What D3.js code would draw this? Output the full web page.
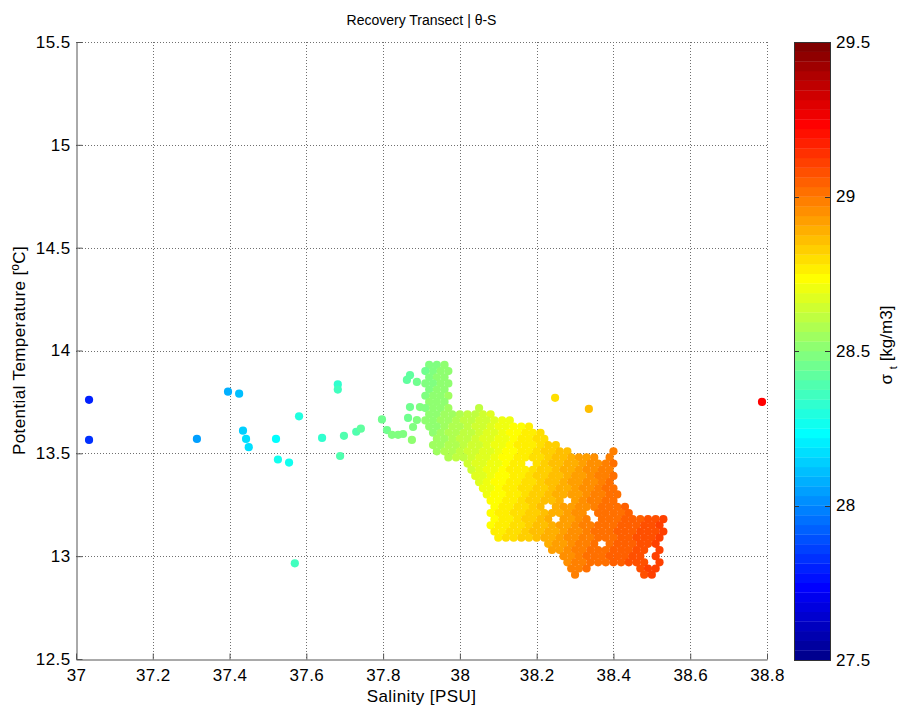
<!DOCTYPE html>
<html lang="en">
<head>
<meta charset="UTF-8" />
<title>Recovery Transect | θ-S</title>
<script src="https://d3js.org/d3.v7.min.js"></script>
<style>
  body { margin: 0; background: #fff; }
  text { font-family: "Liberation Sans", Arial, sans-serif; fill: #000; }
</style>
</head>
<body>
<svg id="chart" width="900" height="707"></svg>
<script>
// axis ticks
const xTicks = [37, 37.2, 37.4, 37.6, 37.8, 38, 38.2, 38.4, 38.6, 38.8];
const yTicks = [12.5, 13, 13.5, 14, 14.5, 15, 15.5];
const cbTicks = [27.5, 28, 28.5, 29, 29.5];

// scattered casts (salinity, potential temperature, sigma-t)
const sparseS = [37.034, 37.034, 37.315, 37.396, 37.425, 37.435, 37.443, 37.45, 37.521, 37.526, 37.555, 37.581, 37.57,
  37.641, 37.698, 37.682, 37.682, 37.688, 37.73, 37.742, 37.797, 37.81, 37.823, 37.839, 37.852, 37.875,
  37.87, 37.862, 37.888, 37.87, 37.896, 37.865, 37.888, 37.878, 38.248, 38.336, 38.787];
const sparseT = [13.76, 13.565, 13.57, 13.80, 13.79, 13.61, 13.57, 13.53, 13.57, 13.47, 13.455, 13.68, 12.965,
  13.575, 13.585, 13.835, 13.81, 13.487, 13.605, 13.62, 13.665, 13.613, 13.59, 13.59, 13.594, 13.565,
  13.88, 13.857, 13.847, 13.725, 13.725, 13.672, 13.662, 13.628, 13.77, 13.716, 13.75];
const sparseSigma = [27.81, 27.84, 28.05, 28.08, 28.10, 28.15, 28.17, 28.18, 28.22, 28.25, 28.27, 28.30, 28.36,
  28.33, 28.38, 28.34, 28.35, 28.40, 28.40, 28.41, 28.44, 28.46, 28.47, 28.48, 28.49, 28.51,
  28.42, 28.42, 28.44, 28.45, 28.47, 28.46, 28.48, 28.48, 28.80, 28.87, 29.24];

// dense cloud, one row per temperature
const cloudT = [13.93, 13.90, 13.87, 13.84, 13.81, 13.78, 13.75, 13.72, 13.69, 13.66, 13.63, 13.60, 13.57, 13.54,
  13.51, 13.48, 13.45, 13.42, 13.39, 13.36, 13.33, 13.30, 13.27, 13.24, 13.21, 13.18, 13.15, 13.12, 13.09,
  13.06, 13.03, 13.00, 12.97, 12.94, 12.91];
const cloudS = [
  [37.92, 37.94, 37.96],
  [37.91, 37.93, 37.95, 37.97],
  [37.92, 37.94, 37.96],
  [37.91, 37.93, 37.95, 37.97],
  [37.92, 37.94, 37.96],
  [37.91, 37.93, 37.95, 37.97],
  [37.92, 37.94, 37.96],
  [37.91, 37.93, 37.95, 37.97, 38.05],
  [37.92, 37.94, 37.96, 37.98, 38.00, 38.02, 38.04, 38.06, 38.08],
  [37.91, 37.93, 37.95, 37.97, 37.99, 38.01, 38.03, 38.05, 38.07, 38.09, 38.11, 38.13],
  [37.92, 37.94, 37.96, 37.98, 38.00, 38.02, 38.04, 38.06, 38.08, 38.10, 38.12, 38.14, 38.16, 38.18],
  [37.93, 37.95, 37.97, 37.99, 38.01, 38.03, 38.05, 38.07, 38.09, 38.11, 38.13, 38.15, 38.17, 38.19, 38.21],
  [37.94, 37.96, 37.98, 38.00, 38.02, 38.04, 38.06, 38.08, 38.10, 38.12, 38.14, 38.16, 38.18, 38.20, 38.22],
  [37.93, 37.95, 37.97, 37.99, 38.01, 38.03, 38.05, 38.07, 38.09, 38.11, 38.13, 38.15, 38.17, 38.19, 38.21, 38.23, 38.25],
  [37.94, 37.96, 37.98, 38.00, 38.02, 38.04, 38.06, 38.08, 38.10, 38.12, 38.14, 38.16, 38.18, 38.20, 38.22, 38.24, 38.26, 38.28, 38.40],
  [37.97, 37.99, 38.01, 38.03, 38.05, 38.07, 38.09, 38.11, 38.13, 38.15, 38.17, 38.19, 38.21, 38.23, 38.25, 38.27, 38.29, 38.31, 38.33, 38.35, 38.39],
  [38.02, 38.04, 38.06, 38.08, 38.10, 38.12, 38.14, 38.16, 38.20, 38.22, 38.24, 38.26, 38.28, 38.30, 38.32, 38.34, 38.36, 38.38, 38.40],
  [38.03, 38.05, 38.07, 38.09, 38.11, 38.13, 38.15, 38.17, 38.19, 38.21, 38.23, 38.25, 38.27, 38.29, 38.31, 38.33, 38.35, 38.37, 38.39],
  [38.04, 38.06, 38.08, 38.10, 38.12, 38.14, 38.16, 38.18, 38.20, 38.22, 38.24, 38.26, 38.28, 38.30, 38.32, 38.34, 38.36, 38.38, 38.40],
  [38.05, 38.07, 38.09, 38.11, 38.13, 38.15, 38.17, 38.19, 38.21, 38.23, 38.25, 38.27, 38.29, 38.31, 38.33, 38.35, 38.37, 38.39],
  [38.06, 38.08, 38.10, 38.12, 38.14, 38.16, 38.18, 38.20, 38.22, 38.24, 38.26, 38.28, 38.30, 38.32, 38.34, 38.36, 38.38, 38.40],
  [38.07, 38.09, 38.11, 38.13, 38.15, 38.17, 38.19, 38.21, 38.23, 38.25, 38.27, 38.29, 38.31, 38.33, 38.35, 38.37, 38.39, 38.41],
  [38.08, 38.10, 38.12, 38.14, 38.16, 38.18, 38.20, 38.22, 38.24, 38.26, 38.30, 38.32, 38.34, 38.36, 38.38, 38.40],
  [38.09, 38.11, 38.13, 38.15, 38.17, 38.19, 38.21, 38.25, 38.27, 38.29, 38.31, 38.33, 38.35, 38.37, 38.39, 38.41, 38.43],
  [38.08, 38.10, 38.12, 38.14, 38.16, 38.18, 38.20, 38.22, 38.24, 38.26, 38.28, 38.30, 38.32, 38.36, 38.38, 38.40, 38.42, 38.44],
  [38.09, 38.11, 38.13, 38.15, 38.17, 38.19, 38.21, 38.23, 38.27, 38.29, 38.31, 38.33, 38.37, 38.39, 38.41, 38.43, 38.45, 38.47, 38.49, 38.51, 38.53],
  [38.08, 38.10, 38.12, 38.14, 38.16, 38.18, 38.20, 38.22, 38.24, 38.26, 38.28, 38.30, 38.32, 38.34, 38.36, 38.38, 38.40, 38.42, 38.44, 38.46, 38.48, 38.50, 38.52],
  [38.09, 38.11, 38.13, 38.15, 38.17, 38.19, 38.21, 38.23, 38.25, 38.27, 38.29, 38.31, 38.33, 38.35, 38.37, 38.39, 38.41, 38.43, 38.45, 38.47, 38.49, 38.51, 38.53],
  [38.10, 38.12, 38.14, 38.16, 38.18, 38.20, 38.22, 38.24, 38.26, 38.28, 38.30, 38.32, 38.34, 38.36, 38.38, 38.40, 38.42, 38.44, 38.46, 38.48, 38.50, 38.52],
  [38.23, 38.25, 38.27, 38.29, 38.31, 38.33, 38.35, 38.39, 38.41, 38.43, 38.45, 38.47, 38.49, 38.51],
  [38.24, 38.26, 38.28, 38.30, 38.32, 38.34, 38.36, 38.38, 38.40, 38.42, 38.44, 38.46, 38.48, 38.52],
  [38.27, 38.29, 38.31, 38.33, 38.35, 38.37, 38.39, 38.41, 38.43, 38.45, 38.47, 38.51],
  [38.28, 38.30, 38.32, 38.34, 38.36, 38.38, 38.40, 38.42, 38.44, 38.46, 38.48, 38.52],
  [38.29, 38.31, 38.33, 38.47, 38.49, 38.51],
  [38.30, 38.48, 38.50]
];
const cloudSigma = [
  [28.47, 28.49, 28.51],
  [28.46, 28.48, 28.50, 28.52],
  [28.48, 28.50, 28.52],
  [28.47, 28.49, 28.51, 28.53],
  [28.49, 28.51, 28.53],
  [28.48, 28.50, 28.52, 28.54],
  [28.50, 28.52, 28.53],
  [28.49, 28.51, 28.53, 28.55, 28.62],
  [28.51, 28.52, 28.54, 28.56, 28.58, 28.60, 28.62, 28.64, 28.66],
  [28.50, 28.52, 28.54, 28.56, 28.58, 28.60, 28.61, 28.63, 28.65, 28.67, 28.69, 28.71],
  [28.51, 28.53, 28.55, 28.57, 28.59, 28.61, 28.63, 28.65, 28.67, 28.69, 28.70, 28.72, 28.74, 28.76],
  [28.53, 28.55, 28.57, 28.59, 28.60, 28.62, 28.64, 28.66, 28.68, 28.70, 28.72, 28.74, 28.76, 28.78, 28.79],
  [28.54, 28.56, 28.58, 28.60, 28.62, 28.64, 28.66, 28.68, 28.69, 28.71, 28.73, 28.75, 28.77, 28.79, 28.81],
  [28.54, 28.56, 28.58, 28.59, 28.61, 28.63, 28.65, 28.67, 28.69, 28.71, 28.73, 28.75, 28.77, 28.78, 28.80, 28.82, 28.84],
  [28.55, 28.57, 28.59, 28.61, 28.63, 28.65, 28.67, 28.68, 28.70, 28.72, 28.74, 28.76, 28.78, 28.80, 28.82, 28.84, 28.86, 28.87, 28.99],
  [28.58, 28.60, 28.62, 28.64, 28.66, 28.68, 28.70, 28.72, 28.74, 28.76, 28.77, 28.79, 28.81, 28.83, 28.85, 28.87, 28.89, 28.91, 28.93, 28.95, 28.98],
  [28.64, 28.66, 28.67, 28.69, 28.71, 28.73, 28.75, 28.77, 28.81, 28.83, 28.85, 28.86, 28.88, 28.90, 28.92, 28.94, 28.96, 28.98, 29.00],
  [28.65, 28.67, 28.69, 28.71, 28.73, 28.75, 28.76, 28.78, 28.80, 28.82, 28.84, 28.86, 28.88, 28.90, 28.92, 28.94, 28.95, 28.97, 28.99],
  [28.66, 28.68, 28.70, 28.72, 28.74, 28.76, 28.78, 28.80, 28.82, 28.84, 28.85, 28.87, 28.89, 28.91, 28.93, 28.95, 28.97, 28.99, 29.01],
  [28.68, 28.70, 28.72, 28.74, 28.75, 28.77, 28.79, 28.81, 28.83, 28.85, 28.87, 28.89, 28.91, 28.93, 28.94, 28.96, 28.98, 29.00],
  [28.69, 28.71, 28.73, 28.75, 28.77, 28.79, 28.81, 28.83, 28.84, 28.86, 28.88, 28.90, 28.92, 28.94, 28.96, 28.98, 29.00, 29.01],
  [28.71, 28.73, 28.74, 28.76, 28.78, 28.80, 28.82, 28.84, 28.86, 28.88, 28.90, 28.92, 28.93, 28.95, 28.97, 28.99, 29.01, 29.02],
  [28.72, 28.74, 28.76, 28.78, 28.80, 28.82, 28.83, 28.85, 28.87, 28.89, 28.93, 28.95, 28.97, 28.99, 29.01, 29.01],
  [28.73, 28.75, 28.77, 28.79, 28.81, 28.83, 28.85, 28.89, 28.91, 28.92, 28.94, 28.96, 28.98, 29.00, 29.01, 29.02, 29.04],
  [28.73, 28.75, 28.77, 28.79, 28.81, 28.82, 28.84, 28.86, 28.88, 28.90, 28.92, 28.94, 28.96, 29.00, 29.01, 29.02, 29.03, 29.04],
  [28.74, 28.76, 28.78, 28.80, 28.82, 28.84, 28.86, 28.88, 28.91, 28.93, 28.95, 28.97, 29.01, 29.02, 29.03, 29.04, 29.05, 29.06, 29.07, 29.08, 29.10],
  [28.74, 28.76, 28.78, 28.80, 28.81, 28.83, 28.85, 28.87, 28.89, 28.91, 28.93, 28.95, 28.97, 28.99, 29.00, 29.01, 29.02, 29.04, 29.05, 29.06, 29.07, 29.08, 29.10],
  [28.75, 28.77, 28.79, 28.81, 28.83, 28.85, 28.87, 28.89, 28.90, 28.92, 28.94, 28.96, 28.98, 29.00, 29.01, 29.02, 29.04, 29.05, 29.05, 29.07, 29.08, 29.09, 29.10],
  [28.77, 28.79, 28.80, 28.82, 28.84, 28.86, 28.88, 28.90, 28.92, 28.94, 28.96, 28.98, 28.99, 29.01, 29.02, 29.03, 29.04, 29.05, 29.07, 29.08, 29.09, 29.10],
  [28.89, 28.91, 28.93, 28.95, 28.97, 28.99, 29.01, 29.03, 29.04, 29.05, 29.06, 29.07, 29.08, 29.10],
  [28.91, 28.93, 28.95, 28.97, 28.98, 29.00, 29.01, 29.02, 29.04, 29.05, 29.06, 29.07, 29.08, 29.10],
  [28.94, 28.96, 28.98, 29.00, 29.01, 29.02, 29.04, 29.04, 29.05, 29.07, 29.08, 29.10],
  [28.96, 28.97, 28.99, 29.01, 29.02, 29.03, 29.04, 29.05, 29.07, 29.08, 29.09, 29.11],
  [28.97, 28.99, 29.01, 29.08, 29.10, 29.11],
  [28.98, 29.09, 29.10]
];

const svg = d3.select("#chart");
const plotLeft = 76, plotRight = 767, plotTop = 42, plotBottom = 659;
const cbLeft = 794, cbRight = 830;

const x = d3.scaleLinear().domain([37, 38.8]).range([plotLeft, plotRight]);
const y = d3.scaleLinear().domain([12.5, 15.5]).range([plotBottom, plotTop]);
const cy = d3.scaleLinear().domain([27.5, 29.5]).range([plotBottom + 1, plotTop]);

// matlab jet(64)
function jet(m) {
  let n = Math.ceil(m / 4);
  let u = [];
  for (let i = 1; i <= n; i++) u.push(i / n);
  for (let i = 1; i < n; i++) u.push(1);
  for (let i = n; i >= 1; i--) u.push(i / n);
  let g0 = Math.ceil(n / 2) - (m % 4 === 1 ? 1 : 0);
  let cols = d3.range(m).map(() => [0, 0, 0]);
  u.forEach((v, k) => {
    let gi = g0 + k + 1, ri = gi + n, bi = gi - n;
    if (gi >= 1 && gi <= m) cols[gi - 1][1] = v;
    if (ri >= 1 && ri <= m) cols[ri - 1][0] = v;
    if (bi >= 1 && bi <= m) cols[bi - 1][2] = v;
  });
  return cols.map(c => d3.rgb(c[0] * 255, c[1] * 255, c[2] * 255).formatHex());
}
const jetColors = jet(64);
const cIndex = d3.scaleQuantize().domain([27.5, 29.5]).range(d3.range(64));
const color = s => jetColors[cIndex(Math.max(27.5, Math.min(29.499, s)))];

// grid
let grid = svg.append("g")
  .attr("stroke", "#6f6f6f")
  .attr("stroke-width", 1)
  .attr("stroke-dasharray", "1,2");
grid.selectAll(".gx")
  .data(xTicks.filter(d => d > 37))
  .enter().append("line")
  .attr("x1", d => Math.round(x(d)) + 0.5).attr("x2", d => Math.round(x(d)) + 0.5)
  .attr("y1", plotTop).attr("y2", plotBottom);
grid.selectAll(".gy")
  .data(yTicks.filter(d => d > 12.5))
  .enter().append("line")
  .attr("y1", d => Math.round(y(d)) + 0.5).attr("y2", d => Math.round(y(d)) + 0.5)
  .attr("x1", plotLeft).attr("x2", plotRight);

// points
let pts = [];
cloudT.forEach((t, i) => {
  cloudS[i].forEach((s, j) => pts.push({ s: s, t: t, c: cloudSigma[i][j] }));
});
sparseS.forEach((s, i) => pts.push({ s: s, t: sparseT[i], c: sparseSigma[i] }));

svg.append("g").selectAll("circle")
  .data(pts)
  .enter().append("circle")
  .attr("cx", d => x(d.s))
  .attr("cy", d => y(d.t))
  .attr("r", 4.1)
  .attr("fill", d => color(d.c));

// axes
let xAxis = svg.append("g")
  .attr("transform", "translate(0," + (plotBottom + 0.5) + ")")
  .call(d3.axisBottom(x).tickValues(xTicks).tickFormat(d => d)
    .tickSizeInner(-6).tickSizeOuter(0).tickPadding(9));
let yAxis = svg.append("g")
  .attr("transform", "translate(" + (plotLeft + 0.5) + ",0)")
  .call(d3.axisLeft(y).tickValues(yTicks).tickFormat(d => d)
    .tickSizeInner(-6).tickSizeOuter(0).tickPadding(6));
[xAxis, yAxis].forEach(a => {
  a.attr("font-family", null).attr("font-size", null);
  a.select(".domain").attr("stroke", "#555");
  a.selectAll(".tick line").attr("stroke", "#555");
  a.selectAll(".tick text").style("font-size", "17px").style("letter-spacing", "0.4px").attr("fill", "#000");
});

// colorbar
let cb = svg.append("g");
cb.selectAll("rect")
  .data(jetColors)
  .enter().append("rect")
  .attr("x", cbLeft)
  .attr("width", cbRight - cbLeft)
  .attr("y", (d, i) => cy(27.5 + (i + 1) * 2 / 64))
  .attr("height", (d, i) => cy(27.5 + i * 2 / 64) - cy(27.5 + (i + 1) * 2 / 64) + 0.3)
  .attr("fill", d => d);
cb.append("rect")
  .attr("x", cbLeft + 0.5).attr("y", plotTop + 0.5)
  .attr("width", cbRight - cbLeft).attr("height", plotBottom + 1 - plotTop)
  .attr("fill", "none").attr("stroke", "#333");
cb.selectAll(".tl")
  .data(cbTicks.slice(1, -1))
  .enter().append("path")
  .attr("d", d => {
    let yy = Math.round(cy(d)) + 0.5;
    return "M" + cbLeft + "," + yy + "h5M" + cbRight + "," + yy + "h-5";
  })
  .attr("stroke", "#333");
cb.selectAll(".lab")
  .data(cbTicks)
  .enter().append("text")
  .attr("x", cbRight + 6)
  .attr("y", d => cy(d))
  .attr("dy", "0.35em")
  .style("font-size", "17px")
  .style("letter-spacing", "0.4px")
  .text(d => d);

// titles
svg.append("text")
  .attr("x", (plotLeft + plotRight) / 2).attr("y", 25)
  .attr("text-anchor", "middle")
  .style("font-size", "14px")
  .text("Recovery Transect | θ-S");
svg.append("text")
  .attr("x", (plotLeft + plotRight) / 2).attr("y", 702)
  .attr("text-anchor", "middle")
  .style("font-size", "17px")
  .style("letter-spacing", "0.4px")
  .text("Salinity [PSU]");
svg.append("text")
  .attr("transform", "translate(25," + (plotTop + plotBottom) / 2 + ") rotate(-90)")
  .attr("text-anchor", "middle")
  .style("font-size", "17px")
  .style("letter-spacing", "0.4px")
  .text("Potential Temperature [ºC]");
let cbl = svg.append("text")
  .attr("transform", "translate(892,345) rotate(-90)")
  .attr("text-anchor", "middle")
  .style("font-size", "17px");
cbl.append("tspan").text("σ ");
cbl.append("tspan").attr("dy", 5).style("font-size", "11px").text("t");
cbl.append("tspan").attr("dy", -5).text(" [kg/m3]");
</script>
</body>
</html>
